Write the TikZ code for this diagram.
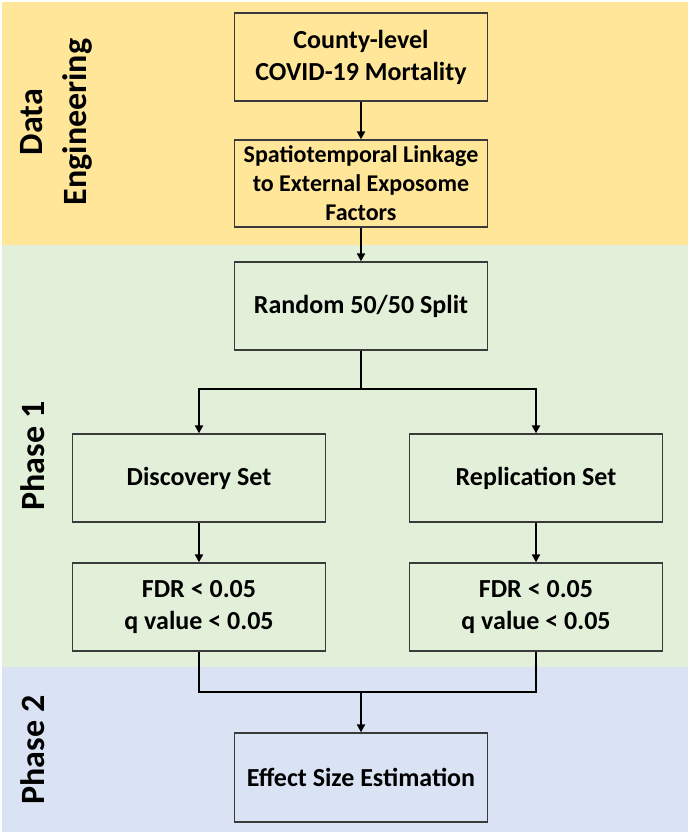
\documentclass[tikz,border=0pt]{standalone}
\usepackage{fontspec}
\setmainfont{Carlito}
\usetikzlibrary{arrows.meta}
\definecolor{bandY}{HTML}{FFE699}
\definecolor{bandG}{HTML}{E2F0D9}
\definecolor{bandB}{HTML}{DAE3F3}
\definecolor{edgegray}{HTML}{3A3A3A}
\begin{document}
\begin{tikzpicture}[x=1pt,y=-1pt,
  box/.style={draw=edgegray, line width=1.3pt, minimum width=253pt, minimum height=88pt,
    inner sep=2pt, align=center, font=\bfseries\fontsize{26}{32}\selectfont},
  conn/.style={line width=2.3pt, draw=black},
  arr/.style={conn, -{Triangle[width=8pt,length=8pt]}},
  side/.style={rotate=90, align=center, font=\bfseries\fontsize{34}{44}\selectfont}]
\useasboundingbox (0,0) rectangle (690,835);
\fill[white] (0,0) rectangle (690,835);
\fill[bandY] (2,2) rectangle (688,245);
\fill[bandG] (2,245) rectangle (688,667);
\fill[bandB] (2,667) rectangle (688,832);

\node[side] (lblData) at (56,122) {Data\\Engineering};
\node[side] (lblP1) at (33,456) {Phase 1};
\node[side] (lblP2) at (33,750) {Phase 2};

\node[box] (county) at (361,57) {County-level\\COVID-19 Mortality};
\node[box, minimum height=87pt, font=\bfseries\fontsize{24}{29}\selectfont] (link) at (361,183.5) {Spatiotemporal Linkage\\to External Exposome\\Factors};
\node[box] (split) at (361,306) {Random 50/50 Split};
\node[box] (disc) at (199,478) {Discovery Set};
\node[box] (repl) at (536,478) {Replication Set};
\node[box] (fdrL) at (199,607) {FDR < 0.05\\q value < 0.05};
\node[box] (fdrR) at (536,607) {FDR < 0.05\\q value < 0.05};
\node[box, minimum height=89pt] (effect) at (361,777.5) {Effect Size Estimation};

\draw[arr] (county) -- (link);
\draw[arr] (link) -- (split);
\coordinate (j1) at (361,389);
\draw[conn] (split.south) -- (j1);
\draw[arr] (j1) -| (disc.north);
\draw[arr] (j1) -| (repl.north);
\draw[arr] (disc) -- (fdrL);
\draw[arr] (repl) -- (fdrR);
\coordinate (j2) at (361,692);
\draw[conn] (fdrL.south) |- (j2) -| (fdrR.south);
\draw[arr] (j2) -- (effect.north);
\end{tikzpicture}
\end{document}
